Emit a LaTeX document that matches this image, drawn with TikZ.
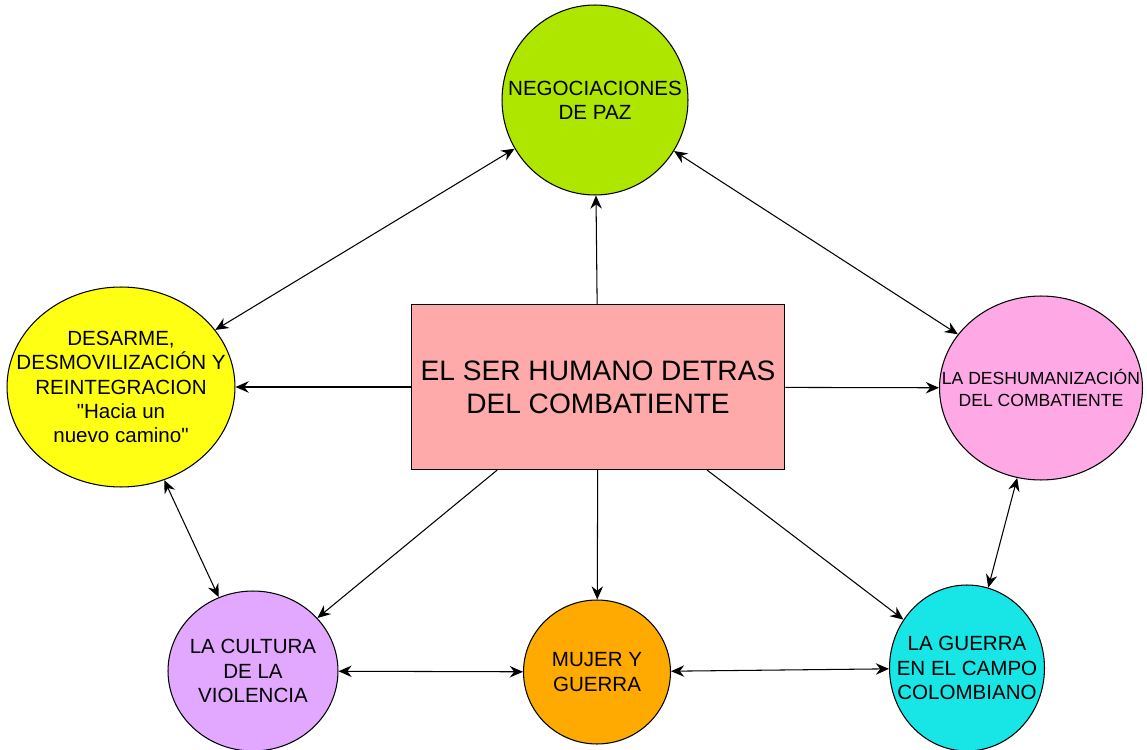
\documentclass[tikz,border=0pt]{standalone}
\usepackage{fontspec}
\setmainfont{Liberation Sans}
\usetikzlibrary{arrows.meta,shapes.geometric}

\definecolor{pazgreen}{RGB}{174,230,0}
\definecolor{ddryellow}{RGB}{255,255,20}
\definecolor{deshpink}{RGB}{255,168,230}
\definecolor{cultlilac}{RGB}{226,168,255}
\definecolor{mujorange}{RGB}{255,170,0}
\definecolor{campocyan}{RGB}{24,230,230}
\definecolor{coresalmon}{RGB}{255,170,170}

\begin{document}
\begin{tikzpicture}[x=0.02cm,y=-0.02cm,>={Stealth[length=7.5pt,width=6.5pt,inset=2.5pt]},
                    line width=0.6pt,
                    topic/.style={ellipse,draw,inner sep=0pt},
                    words/.style={align=center,font=\fontsize{11.7}{13.8}\selectfont}]

  \useasboundingbox (0,0) rectangle (1147,750);

  \node[draw,fill=coresalmon,minimum width=7.48cm,minimum height=3.3cm,
        align=center,font=\fontsize{16}{18.8}\selectfont]
        (core) at (598,387) {EL SER HUMANO DETRAS\\DEL COMBATIENTE};

  \node[topic,fill=pazgreen,minimum width=3.72cm,minimum height=3.8cm,
        label={[words]center:{NEGOCIACIONES\\DE PAZ}}] (paz) at (595,100) {};
  \node[topic,fill=ddryellow,minimum width=4.56cm,minimum height=4cm,
        label={[words]center:{DESARME,\\DESMOVILIZACIÓN Y\\REINTEGRACION\\\textquotedbl Hacia un\\nuevo camino\textquotedbl}}]
        (ddr) at (121,387) {};
  \node[topic,fill=deshpink,minimum width=4.06cm,minimum height=3.68cm,
        label={[align=center,font=\fontsize{10}{12}\selectfont]center:{LA DESHUMANIZACIÓN\\DEL COMBATIENTE}}]
        (desh) at (1041,388) {};
  \node[topic,fill=cultlilac,minimum width=3.4cm,minimum height=3.2cm,
        label={[words]center:{LA CULTURA\\DE LA\\VIOLENCIA}}] (cult) at (253,671) {};
  \node[topic,fill=mujorange,minimum width=2.94cm,minimum height=2.88cm,
        label={[words]center:{MUJER Y\\GUERRA}}] (mujer) at (597,672) {};
  \node[topic,fill=campocyan,minimum width=3.1cm,minimum height=3.32cm,
        label={[words]center:{LA GUERRA\\EN EL CAMPO\\COLOMBIANO}}] (campo) at (967,668) {};

  \path[->] (core) edge (paz)
                   edge (ddr)
                   edge (desh)
                   edge (cult)
                   edge (mujer)
                   edge (campo);

  \path[<->] (paz)   edge (ddr)
                     edge (desh)
             (ddr)   edge (cult)
             (cult)  edge (mujer)
             (mujer) edge (campo)
             (desh)  edge (campo);
\end{tikzpicture}
\end{document}
